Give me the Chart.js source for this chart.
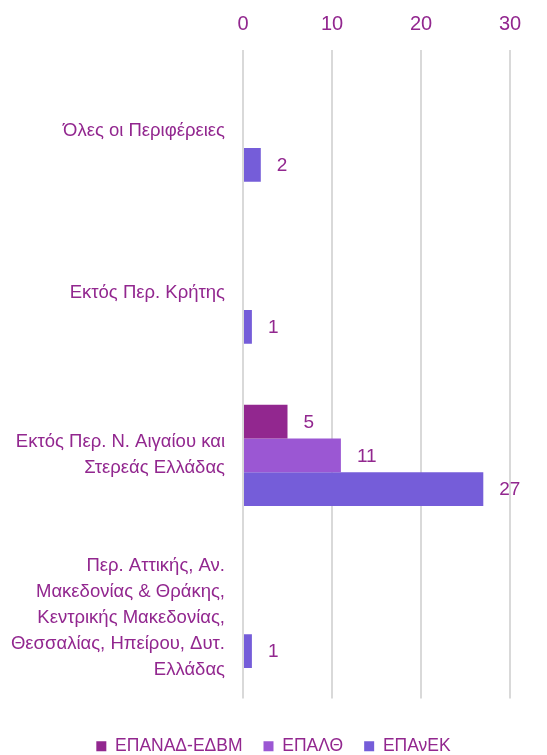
<!DOCTYPE html>
<html><head><meta charset="utf-8">
<script src="https://cdn.jsdelivr.net/npm/chart.js@4.4.0/dist/chart.umd.min.js"></script>
<style>html,body{margin:0;padding:0;background:#fff}#wrap{width:547px;height:755px}</style>
</head><body><div id="wrap"><canvas id="c"></canvas></div>
<script>
const categories = [
  ["Όλες οι Περιφέρειες"],
  ["Εκτός Περ. Κρήτης"],
  ["Εκτός Περ. Ν. Αιγαίου και", "Στερεάς Ελλάδας"],
  ["Περ. Αττικής, Αν.", "Μακεδονίας & Θράκης,", "Κεντρικής Μακεδονίας,", "Θεσσαλίας, Ηπείρου, Δυτ.", "Ελλάδας"]
];
const seriesNames = ["ΕΠΑΝΑΔ-ΕΔΒΜ", "ΕΠΑΛΘ", "ΕΠΑνΕΚ"];
const epanad = [null, null, 5, null];
const epalth = [null, null, 11, null];
const epanek = [2, 1, 27, 1];
const xTicks = [0, 10, 20, 30];

const colors = ["#92278F", "#9B57D3", "#755DD9"];
const textColor = "#92278F";
const FONT = "'Liberation Sans', Arial, sans-serif";

const valueLabels = {
  id: 'valueLabels',
  afterDatasetsDraw(chart) {
    const ctx = chart.ctx;
    ctx.save();
    ctx.font = "19px " + FONT;
    ctx.fillStyle = textColor;
    ctx.textAlign = 'left';
    ctx.textBaseline = 'middle';
    chart.data.datasets.forEach((ds, i) => {
      const meta = chart.getDatasetMeta(i);
      meta.data.forEach((bar, j) => {
        const v = ds.data[j];
        if (v === null || v === undefined || v === 0) return;
        ctx.fillText(String(v), bar.x + 16, bar.y + 1);
      });
    });
    ctx.restore();
  }
};

const legendShift = {
  id: 'legendShift',
  afterLayout(chart) {
    const l = chart.legend;
    l.left = 0; l.right = chart.width; l.width = chart.width;
    l.top += 18; l.bottom += 18;
  }
};

new Chart(document.getElementById('c'), {
  type: 'bar',
  data: {
    labels: categories,
    datasets: [
      { label: seriesNames[0], data: epanad, backgroundColor: colors[0] },
      { label: seriesNames[1], data: epalth, backgroundColor: colors[1] },
      { label: seriesNames[2], data: epanek, backgroundColor: colors[2] }
    ]
  },
  options: {
    indexAxis: 'y',
    responsive: true,
    maintainAspectRatio: false,
    animation: false,
    categoryPercentage: 0.625,
    barPercentage: 1,
    layout: { padding: { left: 0, right: 37, top: 0, bottom: 8 } },
    scales: {
      x: {
        position: 'top',
        min: 0, max: 30,
        afterBuildTicks(scale) { scale.ticks = xTicks.map(v => ({ value: v })); },
        afterFit(scale) { scale.height = 50; scale.paddingLeft = 0; scale.paddingRight = 0; },
        grid: { color: '#D9D9D9', lineWidth: 2, drawTicks: false },
        border: { display: false },
        ticks: { color: textColor, font: { family: FONT, size: 20 }, padding: 14 }
      },
      y: {
        afterFit(scale) { scale.width = 243; scale.paddingTop = 0; scale.paddingBottom = 0; },
        grid: { display: false, drawTicks: false },
        border: { display: false },
        ticks: { color: textColor, font: { family: FONT, size: 18.5, lineHeight: 1.405 }, padding: 18 }
      }
    },
    plugins: {
      legend: {
        position: 'bottom',
        labels: {
          color: textColor,
          font: { family: FONT, size: 17.5 },
          boxWidth: 10, boxHeight: 10,
          padding: 21
        }
      },
      tooltip: { enabled: false }
    }
  },
  plugins: [valueLabels, legendShift]
});
</script></body></html>
